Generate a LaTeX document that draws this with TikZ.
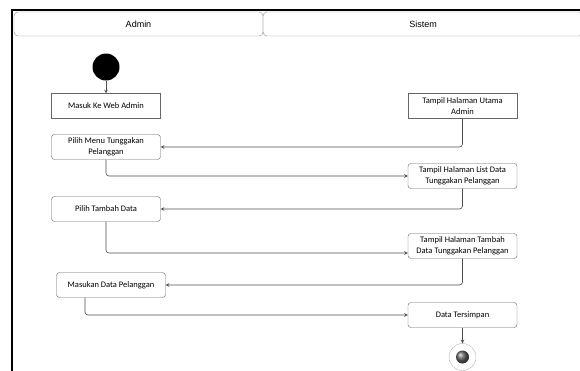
\documentclass[tikz,border=0pt]{standalone}
\usepackage{fontspec}
\setmainfont{Carlito}
\newfontfamily\lanefont{Liberation Sans}

\begin{document}
\begin{tikzpicture}[x=1pt,y=-1pt,>=stealth]
\tikzset{
  act/.style={draw=black!60,fill=white,rounded corners=3pt,minimum width=109pt,minimum height=25pt,align=center,inner sep=1pt,font=\fontsize{8.5}{11.5}\selectfont},
  sact/.style={act,rounded corners=0pt},
  lane/.style={draw=black!45,rounded corners=4pt,minimum height=24pt,inner sep=0pt,font=\lanefont\fontsize{9}{11}\selectfont},
  arr/.style={->,draw=black!70,line width=.6pt,rounded corners=3pt}
}
\clip (0,0) rectangle (580,370);
\draw[line width=2pt] (12,372) -- (12,10) -- (582,10);
\node[lane,minimum width=249pt] (admin) at (138.5,24) {Admin};
\node[lane,minimum width=320pt] (sistem) at (423,24) {Sistem};
\node[circle,fill=black,minimum size=27pt,inner sep=0pt] (start) at (106,67) {};
\node[sact] (masuk) at (106,106) {Masuk Ke Web Admin};
\node[sact] (utama) at (462.5,106) {Tampil Halaman Utama\\Admin};
\node[act] (pilihmenu) at (106,147) {Pilih Menu Tunggakan\\Pelanggan};
\node[act] (list) at (462.5,176) {Tampil Halaman List Data\\Tunggakan Pelanggan};
\node[act] (pilihtambah) at (106,209) {Pilih Tambah Data};
\node[act] (tampiltambah) at (462.5,246) {Tampil Halaman Tambah\\Data Tunggakan Pelanggan};
\node[act] (masukan) at (111,285) {Masukan Data Pelanggan};
\node[act] (tersimpan) at (462.5,315) {Data Tersimpan};
\node[circle,draw=black!30,fill=white,minimum size=27pt,inner sep=0pt] (stop) at (462.5,357) {};
\node[circle,ball color=black!60,minimum size=13pt,inner sep=0pt] (stopdot) at (stop) {};
\draw[arr] (start) -- (masuk);
\draw[arr] (utama.south) |- (pilihmenu.east);
\draw[arr] (pilihmenu.south) |- (list.west);
\draw[arr] (list.south) |- (pilihtambah.east);
\draw[arr] (pilihtambah.south) |- ([yshift=-7pt]tampiltambah.west);
\draw[arr] (tampiltambah.south) |- (masukan.east);
\draw[arr] ([xshift=-26pt]masukan.south) |- (tersimpan.west);
\draw[arr] (tersimpan) -- (stop);
\end{tikzpicture}
\end{document}
